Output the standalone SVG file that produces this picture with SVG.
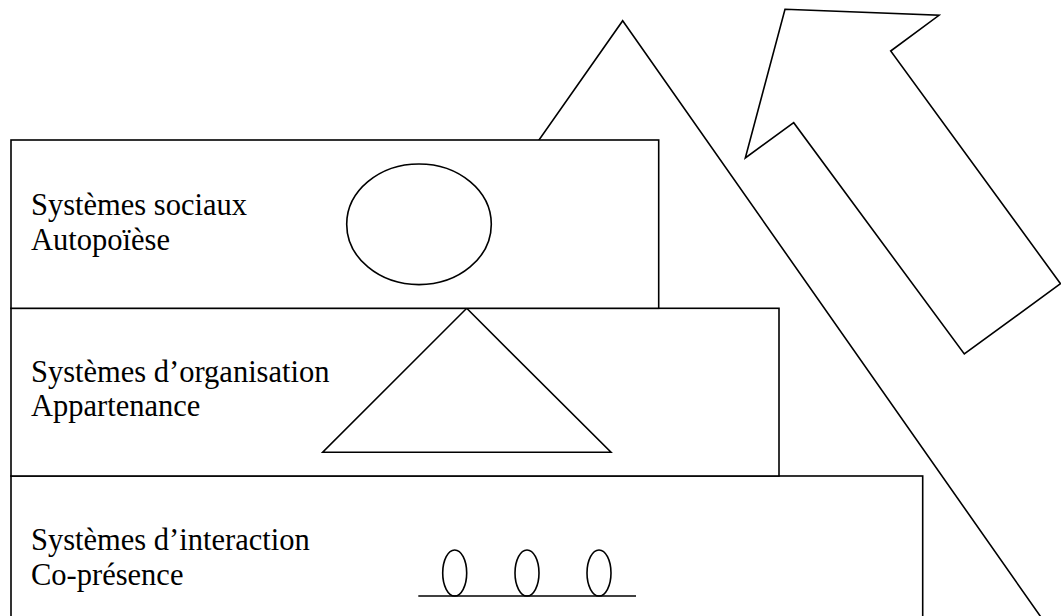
<svg xmlns="http://www.w3.org/2000/svg" width="1061" height="616" viewBox="0 0 1061 616">
<style>
.s{fill:#fff;stroke:#000;stroke-width:1.6;stroke-linejoin:miter}
.n{fill:none;stroke:#000;stroke-width:1.6}
.t{font-family:"Liberation Serif","Times New Roman",serif;font-size:30.5px;fill:#000}
</style>
<rect width="1061" height="616" fill="#fff"/>
<g id="big-triangle">
<polygon class="s" points="622.7,20.7 1057,640 188,640"/>
</g>
<g id="arrow">
<polygon class="s" points="785,9.3 939,15.3 890.7,51 1060.5,283.7 964.3,354 793.7,122.7 745.3,158"/>
</g>
<g id="interaction">
<rect class="s" x="11" y="476" width="911.7" height="160"/>
<text class="t" x="31" y="550">Systèmes d’interaction</text>
<text class="t" x="31" y="585">Co-présence</text>
<line class="n" x1="418.3" y1="596" x2="636" y2="596"/>
<ellipse class="n" cx="454.7" cy="573" rx="12" ry="23"/>
<ellipse class="n" cx="527" cy="573" rx="12" ry="23"/>
<ellipse class="n" cx="599" cy="573" rx="12" ry="23"/>
</g>
<g id="organisation">
<rect class="s" x="11" y="308.3" width="768" height="167.7"/>
<text class="t" x="31" y="382">Systèmes d’organisation</text>
<text class="t" x="31" y="416">Appartenance</text>
<polygon class="n" points="466.7,308.3 611,452.3 322.7,452.3"/>
</g>
<g id="sociaux">
<rect class="s" x="11" y="140" width="647.7" height="168.3"/>
<text class="t" x="31" y="215">Systèmes sociaux</text>
<text class="t" x="31" y="250">Autopoïèse</text>
<ellipse class="n" cx="419" cy="224.3" rx="72.3" ry="60.3"/>
</g>
<g id="connectors"/>
</svg>
